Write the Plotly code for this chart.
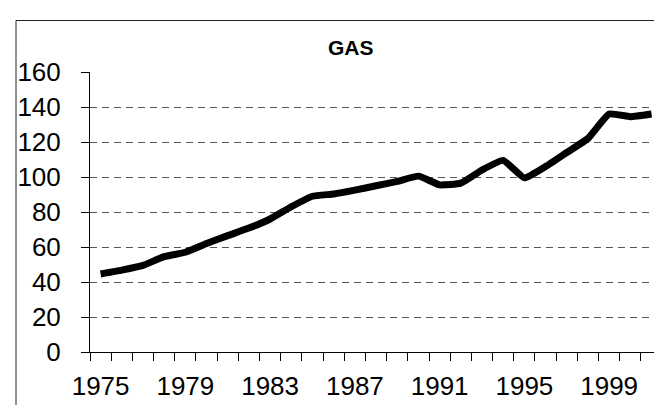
import plotly.graph_objects as go

years = list(range(1975, 2002))
gas = [44.6, 46.8, 49.5, 54.5, 57.0, 62.0, 66.5, 70.8, 76.0, 83.0,
       89.0, 90.3, 92.5, 95.0, 97.5, 100.5, 95.5, 96.5, 104.0, 109.5,
       99.5, 106.0, 114.0, 122.0, 136.0, 134.5, 136.0]
x_labels = [1975, 1979, 1983, 1987, 1991, 1995, 1999]
y_ticks = [0, 20, 40, 60, 80, 100, 120, 140, 160]
grid_vals = [20, 40, 60, 80, 100, 120, 140]
title = "GAS"

W, H = 662, 405
L, T, B = 82, 64, 61
plot_w = W - L
cat_w = 21.19

fig = go.Figure()
fig.add_trace(go.Scatter(x=years, y=gas, mode="lines",
                         line=dict(color="black", width=7, shape="spline", smoothing=0.4),
                         hoverinfo="skip", showlegend=False))

font_family = "Liberation Sans, Arial, sans-serif"
fig.update_layout(
    width=W, height=H,
    margin=dict(l=L, r=0, t=T, b=B, pad=0),
    paper_bgcolor="white", plot_bgcolor="white",
    showlegend=False,
    font=dict(family=font_family, color="black", size=26),
    xaxis=dict(
        range=[1974.5, 1974.5 + plot_w / cat_w],
        tickmode="array", tickvals=x_labels, ticktext=[str(v) for v in x_labels],
        ticks="outside", ticklen=11, tickcolor="rgba(0,0,0,0)",
        showgrid=False, zeroline=False,
        showline=True, linecolor="black", linewidth=1,
        tickfont=dict(size=26, family=font_family, color="black"),
        minor=dict(tickmode="array", tickvals=[y - 0.5 for y in years] + [years[-1] + 0.5],
                   ticks="outside", ticklen=8, tickcolor="black", tickwidth=1, showgrid=False),
        fixedrange=True,
    ),
    yaxis=dict(
        range=[0, 160],
        tickmode="array", tickvals=y_ticks, ticktext=[str(v) for v in y_ticks],
        ticks="outside", ticklen=8, tickcolor="black", tickwidth=1,
        ticklabelstandoff=15,
        showgrid=False, zeroline=False,
        showline=True, linecolor="black", linewidth=1,
        tickfont=dict(size=26, family=font_family, color="black"),
        minor=dict(tickmode="array", tickvals=grid_vals, ticks="", showgrid=True,
                   gridcolor="#555555", gridwidth=1, griddash="7px,5px"),
        fixedrange=True,
    ),
)

ph = H - T - B
fig.add_shape(type="rect", xref="paper", yref="paper",
              x0=(8 - L) / plot_w, x1=(W + 20 - L) / plot_w,
              y0=(344 - (H + 20)) / ph, y1=(344 - 12.5) / ph,
              line=dict(color="#222222", width=1), fillcolor="rgba(0,0,0,0)", layer="below")

fig.add_annotation(text="<b>%s</b>" % title, xref="paper", yref="paper",
                   x=(342.5 - L) / plot_w, y=(344 - 39) / ph,
                   xanchor="center", yanchor="middle", showarrow=False,
                   font=dict(size=21, family=font_family, color="black"))

fig.write_html("out.html", config={"displayModeBar": False})
